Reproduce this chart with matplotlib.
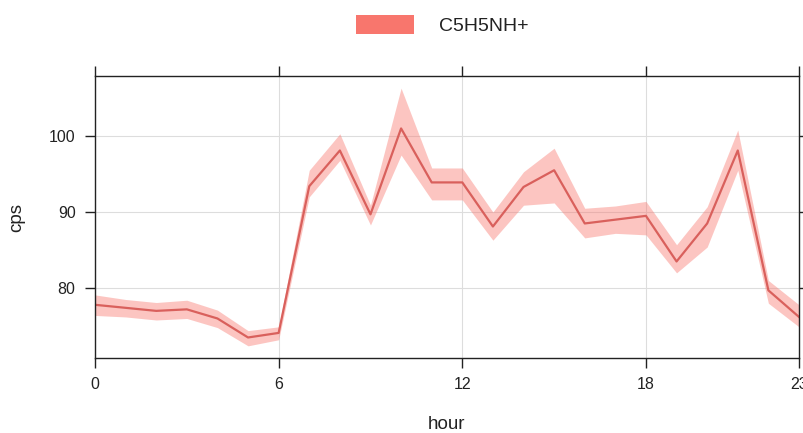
import matplotlib
matplotlib.use("Agg")
import matplotlib.pyplot as plt
import numpy as np
from matplotlib.patches import Patch

plt.rcParams["font.family"] = ["Liberation Sans", "DejaVu Sans"]

# hourly mean and confidence band
hours = list(range(24))
cps_mean = [77.8, 77.4, 77.0, 77.2, 76.0, 73.5, 74.1, 93.4, 98.1, 89.7, 101.0, 93.9,
            93.9, 88.1, 93.3, 95.5, 88.5, 89.0, 89.5, 83.5, 88.5, 98.1, 79.7, 76.2]
cps_upper = [79.1, 78.5, 78.1, 78.4, 77.1, 74.4, 74.9, 95.5, 100.3, 90.9, 106.3, 95.8,
             95.8, 90.0, 95.3, 98.4, 90.5, 90.8, 91.4, 85.7, 90.7, 100.8, 81.0, 77.8]
cps_lower = [76.4, 76.2, 75.8, 76.0, 74.8, 72.4, 73.2, 92.0, 96.8, 88.3, 97.5, 91.6,
             91.6, 86.3, 90.9, 91.2, 86.6, 87.2, 87.0, 82.0, 85.4, 95.5, 78.0, 74.9]
x_ticks = [0, 6, 12, 18, 23]
y_ticks = [80, 90, 100]
series_name = "C5H5NH+"

fill_color = "#F8766D"
line_color = "#D9605C"

fig = plt.figure(figsize=(8.04, 4.33), dpi=100)
ax = fig.add_axes([95 / 804, 75 / 433, 704 / 804, 282 / 433])

ax.fill_between(hours, cps_lower, cps_upper, color=fill_color, alpha=0.42, linewidth=0)
ax.plot(hours, cps_mean, color=line_color, linewidth=1.6)

ax.set_xlim(0, 23)
ax.set_ylim(70.8, 107.9)
ax.set_xticks(x_ticks)
ax.set_yticks(y_ticks)
ax.grid(True, color="#dddddd", linewidth=0.8)
ax.set_axisbelow(True)

for spine in ax.spines.values():
    spine.set_color("#222222")
    spine.set_linewidth(1.0)

ax.tick_params(axis="both", direction="out", length=7, width=1.0, color="#222222",
               labelsize=11.5, labelcolor="#222222", top=True, right=True,
               labeltop=False, labelright=False, pad=7)

ax.set_xlabel("hour", fontsize=13.5, color="#222222", labelpad=17)
ax.set_ylabel("cps", fontsize=13.5, color="#222222", labelpad=17)

handle = Patch(facecolor=fill_color, edgecolor="none")
fig.legend([handle], [series_name], loc="center", bbox_to_anchor=(0.55, 0.942),
           frameon=False, fontsize=14, handlelength=3.0, handleheight=1.1,
           handletextpad=1.3, borderpad=0, labelcolor="#222222")

fig.savefig("out.png", dpi=100)
